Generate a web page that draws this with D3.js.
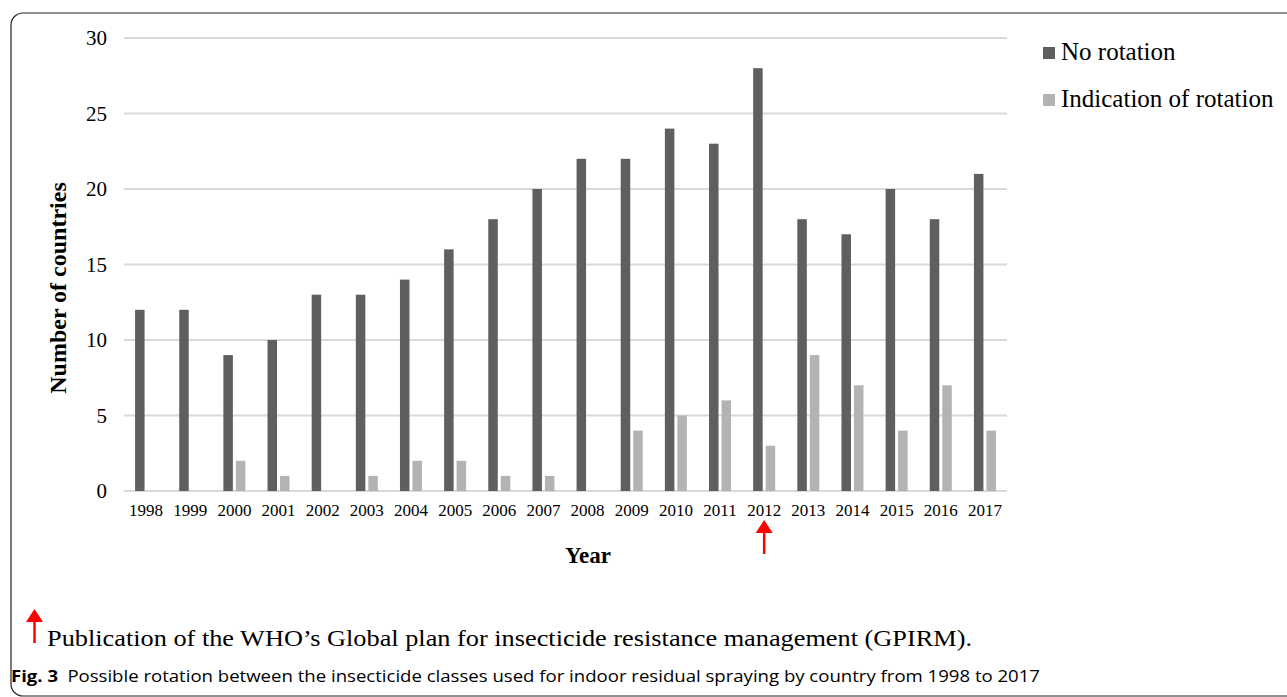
<!DOCTYPE html>
<html><head><meta charset="utf-8">
<script src="https://cdn.jsdelivr.net/npm/d3@7"></script>
<style>body{margin:0;background:#fff}svg{display:block}</style>
</head><body>
<svg id="c" width="1287" height="697"></svg>
<script>
const years = ["1998","1999","2000","2001","2002","2003","2004","2005","2006","2007","2008","2009","2010","2011","2012","2013","2014","2015","2016","2017"];
const noRotation = [12,12,9,10,13,13,14,16,18,20,22,22,24,23,28,18,17,20,18,21];
const indication = [0,0,2,1,0,1,2,2,1,1,0,4,5,6,3,9,7,4,7,4];
const seriesNames = ["No rotation","Indication of rotation"];
const colors = ["#5f5f5f","#b3b3b3"];
const yTicks = [0,5,10,15,20,25,30];

(function(){
const svg = d3.select("#c");
// frame
svg.append("rect").attr("x",11).attr("y",13).attr("width",1290).attr("height",683)
  .attr("rx",12).attr("fill","none").attr("stroke","#222").attr("stroke-width",1.2);

const pL=124, pR=1007, pT=38, pB=491;
const x = d3.scaleBand().domain(years).range([pL,pR]).paddingInner(0).paddingOuter(0);
const y = d3.scaleLinear().domain([0,30]).range([pB,pT]);
const xs = d3.scaleBand().domain([0,1]).range([0,x.bandwidth()]).paddingInner(0.24).paddingOuter(0.886);

const serif = "'Liberation Serif','Times New Roman',serif";

// gridlines
svg.append("g").selectAll("line").data(yTicks).join("line")
  .attr("x1",pL).attr("x2",pR).attr("y1",d=>y(d)).attr("y2",d=>y(d))
  .attr("stroke","#d9d9d9").attr("stroke-width",2);

// y axis labels
const ya = svg.append("g").attr("transform",`translate(${pL},0)`)
  .call(d3.axisLeft(y).tickValues(yTicks).tickSize(0).tickPadding(17));
ya.select(".domain").remove();
ya.selectAll("text").attr("font-family",serif).attr("font-size",21).attr("fill","#000");

// bars
const data = years.map((yr,i)=>({yr, vals:[noRotation[i],indication[i]]}));
const g = svg.append("g").selectAll("g").data(data).join("g")
  .attr("transform",d=>`translate(${x(d.yr)},0)`);
g.selectAll("rect").data(d=>d.vals.map((v,k)=>({v,k}))).join("rect")
  .attr("x",d=>xs(d.k)).attr("width",xs.bandwidth())
  .attr("y",d=>y(d.v)).attr("height",d=>y(0)-y(d.v))
  .attr("fill",d=>colors[d.k]);

// x axis labels
const xa = svg.append("g").attr("transform",`translate(0,${pB})`)
  .call(d3.axisBottom(x).tickSize(0).tickPadding(13));
xa.select(".domain").remove();
xa.selectAll("text").attr("font-family",serif).attr("font-size",17).attr("fill","#000");

// axis titles
svg.append("text").attr("x",588).attr("y",563).attr("text-anchor","middle")
  .attr("font-family",serif).attr("font-weight","bold").attr("font-size",23).text("Year");
svg.append("text").attr("transform","translate(66,288) rotate(-90)").attr("text-anchor","middle")
  .attr("font-family",serif).attr("font-weight","bold").attr("font-size",24).text("Number of countries");

// legend
const lg = svg.append("g");
seriesNames.forEach((n,i)=>{
  lg.append("rect").attr("x",1043).attr("y",47+i*47).attr("width",12).attr("height",12).attr("fill",colors[i]);
  lg.append("text").attr("x",1061).attr("y",60+i*47).attr("font-family",serif).attr("font-size",25).text(n);
});

// arrows
function arrow(cx, tipY, tailY){
  svg.append("line").attr("x1",cx).attr("x2",cx).attr("y1",tipY+8).attr("y2",tailY)
    .attr("stroke","#ff0000").attr("stroke-width",2.5);
  svg.append("path").attr("d",`M${cx},${tipY} L${cx-8.5},${tipY+13} L${cx+8.5},${tipY+13} Z`).attr("fill","#ff0000");
}
arrow(x("2012")+x.bandwidth()/2, 520, 554);
arrow(34.5, 609, 643);

svg.append("text").attr("x",47).attr("y",646).attr("font-family",serif).attr("font-size",24)
  .attr("textLength",925).attr("lengthAdjust","spacingAndGlyphs")
  .text("Publication of the WHO\u2019s Global plan for insecticide resistance management (GPIRM).");

const cap = svg.append("text").attr("x",11).attr("y",682).attr("font-family","'Open Sans',sans-serif").attr("font-size",16)
  .attr("textLength",1029).attr("lengthAdjust","spacingAndGlyphs");
cap.append("tspan").attr("font-weight","bold").text("Fig. 3");
cap.append("tspan").text("\u2002Possible rotation between the insecticide classes used for indoor residual spraying by country from 1998 to 2017");
})();
</script>
</body></html>
